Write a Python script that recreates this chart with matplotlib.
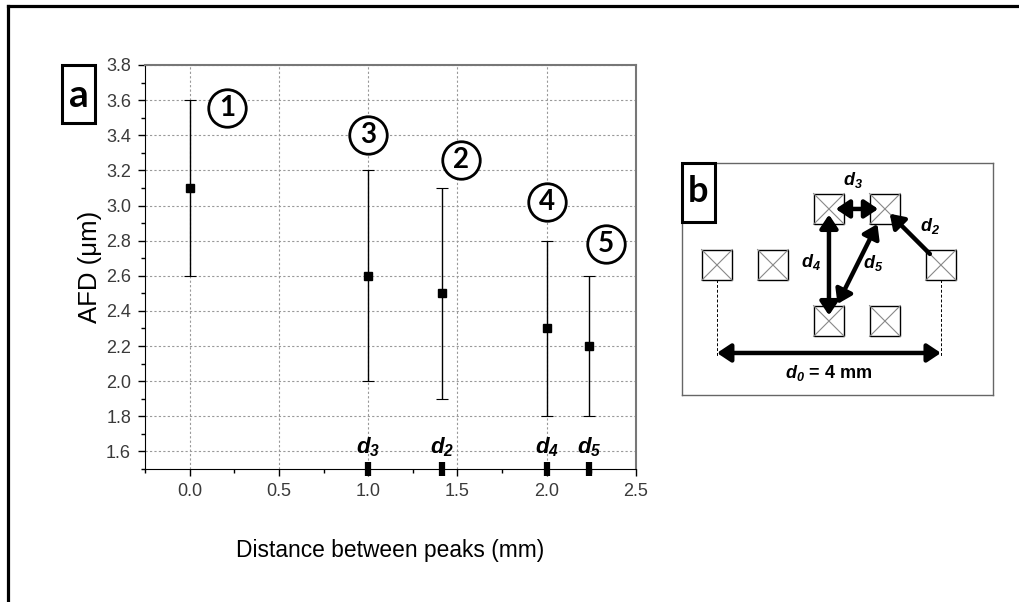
import numpy as np
import matplotlib
matplotlib.use('Agg')
import matplotlib.pyplot as plt
from matplotlib.patches import Rectangle
from matplotlib.lines import Line2D
from matplotlib.ticker import MultipleLocator, FormatStrFormatter

plt.rcParams['font.family'] = ['Liberation Sans', 'DejaVu Sans']
plt.rcParams['mathtext.fontset'] = 'custom'
plt.rcParams['mathtext.rm'] = 'Liberation Sans'
plt.rcParams['mathtext.it'] = 'Liberation Sans:italic'
plt.rcParams['mathtext.bf'] = 'Liberation Sans:bold'
plt.rcParams['mathtext.bfit'] = 'Liberation Sans:bold:italic'

# panel a: AFD vs distance between peaks
distance = [0.0, 1.0, 1.414, 2.0, 2.236]
afd = [3.1, 2.6, 2.5, 2.3, 2.2]
afd_err = [0.5, 0.6, 0.6, 0.5, 0.4]
case_labels = ['1', '3', '2', '4', '5']
case_x = [0.21, 1.0, 1.52, 2.0, 2.33]
case_y = [3.555, 3.4, 3.26, 3.02, 2.78]
d_names = ['3', '2', '4', '5']
d_values = [1.0, 1.414, 2.0, 2.236]

# panel b: pad layout (mm)
pad_x = [0, 1, 2, 3, 4, 2, 3]
pad_y = [0, 0, 1, 1, 0, -1, -1]
arrow_pairs = [(2, 3), (4, 3), (2, 5), (3, 5)]
arrow_names = ['3', '2', '4', '5']
d0_mm = 4

W, H = 1019, 602


def fx(px):
    return px / W


def fy(py):
    return 1 - py / H


fig = plt.figure(figsize=(W / 100, H / 100), dpi=100)

# outer frame (left and top only)
fig.add_artist(Line2D([fx(8), fx(8)], [0, fy(6)], color='k', lw=2.3))
fig.add_artist(Line2D([fx(8), 1], [fy(6), fy(6)], color='k', lw=2.3))

ax = fig.add_axes([fx(145), fy(469), fx(636) - fx(145), fy(65) - fy(469)])
ax.errorbar(distance, afd, yerr=afd_err, fmt='s', color='k', ms=6,
            capsize=4, elinewidth=1, capthick=0.8, zorder=3)

ax.set_xlim(-0.25, 2.5)
ax.set_ylim(1.5, 3.8)
ax.xaxis.set_major_locator(MultipleLocator(0.5))
ax.xaxis.set_minor_locator(MultipleLocator(0.25))
ax.yaxis.set_major_locator(MultipleLocator(0.2))
ax.yaxis.set_minor_locator(MultipleLocator(0.1))
ax.xaxis.set_major_formatter(FormatStrFormatter('%.1f'))
ax.yaxis.set_major_formatter(FormatStrFormatter('%.1f'))
ax.tick_params(which='major', direction='out', length=5, width=1,
               labelsize=13, labelcolor='#3a3a3a', pad=5)
ax.tick_params(which='minor', direction='out', length=3, width=1)
ax.grid(True, which='major', linestyle=(0, (2, 2)), color='#999999', lw=0.8)
for s in ['top', 'right']:
    ax.spines[s].set_color('#777777')
    ax.spines[s].set_linewidth(1.5)

# circled case numbers
ax.plot(case_x, case_y, 'o', ms=27, mfc='white', mec='k', mew=2, clip_on=False, zorder=4)
for lab, x, y in zip(case_labels, case_x, case_y):
    ax.text(x, y, lab, ha='center', va='center', fontsize=20, fontweight='bold',
            family='Lato', zorder=5)

# d markers on the x axis
ax.plot(d_values, [0] * len(d_values), ls='none', marker='|', ms=10, mew=4.5,
        color='k', transform=ax.get_xaxis_transform(), clip_on=False, zorder=5)
for n, x in zip(d_names, d_values):
    ax.text(x, 0.025, r'$\mathbfit{d_' + n + '}$', ha='center', va='bottom',
            fontsize=16, transform=ax.get_xaxis_transform())

fig.text(fx(90), fy(267), 'AFD (μm)', rotation=90, ha='center', va='center', fontsize=18.5)
fig.text(fx(390), fy(551), 'Distance between peaks (mm)', ha='center', va='center', fontsize=16.4)

# label a
fig.add_artist(Rectangle((fx(62), fy(123)), fx(95) - fx(62), fy(65) - fy(123),
                         transform=fig.transFigure, fill=False, ec='k', lw=2.2))
fig.text(fx(78.5), fy(96), 'a', ha='center', va='center', fontsize=28,
         fontweight='bold', family='Lato')

# panel b: schematic
bx = fig.add_axes([fx(682), fy(395), fx(993) - fx(682), fy(163) - fy(395)])
bx.set_xlim(-0.625, 4.93)
bx.set_ylim(-2.32, 1.82)
bx.set_xticks([])
bx.set_yticks([])
for s in bx.spines.values():
    s.set_color('#666666')
    s.set_linewidth(1)

half = 0.275
for x, y in zip(pad_x, pad_y):
    bx.add_patch(Rectangle((x - half, y - half), 2 * half, 2 * half,
                           fc='white', ec='k', lw=1, zorder=2))
    bx.plot([x - half, x + half], [y - half, y + half], color='#888888', lw=0.8, zorder=3)
    bx.plot([x - half, x + half], [y + half, y - half], color='#888888', lw=0.8, zorder=3)

shrinks = [(0.12, 0.12), (0.28, 0.12), (0.1, 0.1), (0.3, 0.34)]
styles = ['<|-|>', '-|>', '<|-|>', '<|-|>']
for (i, j), (s1, s2), st in zip(arrow_pairs, shrinks, styles):
    p1 = np.array([pad_x[i], pad_y[i]], dtype=float)
    p2 = np.array([pad_x[j], pad_y[j]], dtype=float)
    u = (p2 - p1) / np.hypot(*(p2 - p1))
    a = p1 + u * s1
    b = p2 - u * s2
    bx.annotate('', xy=b, xytext=a,
                arrowprops=dict(arrowstyle=st + ',head_length=0.45,head_width=0.3',
                                lw=3.2, color='k', shrinkA=0, shrinkB=0,
                                mutation_scale=18), zorder=4)

lab_pos = [(2.43, 1.52), (3.80, 0.70), (1.68, 0.05), (2.79, 0.04)]
for n, (x, y) in zip(arrow_names, lab_pos):
    bx.text(x, y, r'$\mathbfit{d_' + n + '}$', ha='center', va='center', fontsize=13)

# d0 dimension line
y_d0 = -1.57
bx.plot([pad_x[0], pad_x[0]], [pad_y[0], y_d0 - 0.05], color='k', lw=0.7, ls=(0, (3, 2)), zorder=1)
bx.plot([pad_x[4], pad_x[4]], [pad_y[4], y_d0 - 0.05], color='k', lw=0.7, ls=(0, (3, 2)), zorder=1)
bx.annotate('', xy=(pad_x[4], y_d0), xytext=(pad_x[0], y_d0),
            arrowprops=dict(arrowstyle='<|-|>,head_length=0.45,head_width=0.3',
                            lw=3.2, color='k', shrinkA=0, shrinkB=0, mutation_scale=18))
bx.text((pad_x[0] + pad_x[4]) / 2, -1.93, r'$\mathbfit{d_0}$' + ' = %d mm' % d0_mm,
        ha='center', va='center', fontsize=13, fontweight='bold')

# label b
fig.add_artist(Rectangle((fx(682), fy(222)), fx(715) - fx(682), fy(163) - fy(222),
                         transform=fig.transFigure, fc='white', ec='k', lw=2.2))
fig.text(fx(698.5), fy(192), 'b', ha='center', va='center', fontsize=26,
         fontweight='bold', family='Lato')

fig.savefig('out.png', dpi=100)
